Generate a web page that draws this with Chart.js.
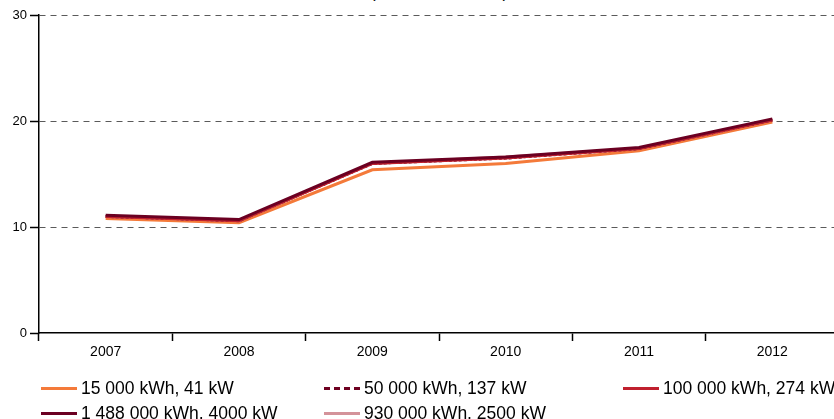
<!DOCTYPE html>
<html>
<head>
<meta charset="utf-8">
<script src="https://cdn.jsdelivr.net/npm/chart.js@4/dist/chart.umd.min.js"></script>
<style>
  html, body { margin: 0; padding: 0; background: #fff; overflow: hidden; }
  #wrap { position: relative; width: 834px; height: 419px; overflow: hidden; font-family: "Liberation Sans", Arial, sans-serif; }
  #title { position: absolute; left: 0; width: 878px; top: -17px; text-align: center; font-size: 17px; color: #000; white-space: nowrap; }
  #chartBox { position: absolute; left: 0; top: 0; width: 845px; height: 360px; }
  #legend { position: absolute; left: 0; top: 0; width: 834px; height: 419px; pointer-events: none; }
  .li { position: absolute; display: flex; align-items: center; font-size: 17.5px; color: #000; white-space: nowrap; }
  .sw { width: 36px; height: 0; border-top: 3px solid; margin-right: 4px; }
</style>
</head>
<body>
<div id="wrap">
  <div id="title">(c/kWh, excl. VAT)</div>
  <div id="chartBox"><canvas id="c" width="845" height="360"></canvas></div>
  <div id="legend"></div>
</div>
<script>
// ---- data ----
const years = ['2007', '2008', '2009', '2010', '2011', '2012'];
const yTicks = [0, 10, 20, 30];
const seriesNames = ['15 000 kWh, 41 kW', '50 000 kWh, 137 kW', '100 000 kWh, 274 kW', '1 488 000 kWh, 4000 kW', '930 000 kWh, 2500 kW'];
const s15000   = [10.8, 10.4, 15.4, 16.0, 17.2, 19.9];
const s50000   = [11.0, 10.6, 16.0, 16.5, 17.4, 20.1];
const s100000  = [11.0, 10.6, 16.0, 16.5, 17.4, 20.1];
const s1488000 = [11.1, 10.7, 16.1, 16.6, 17.5, 20.2];
const s930000  = [11.0, 10.6, 16.0, 16.6, 17.4, 20.1];

const colors = ['#F47A3A', '#6E0020', '#C0202E', '#6B0022', '#D4939A'];
const dashes = [[], [3, 2], [], [], []];
const orders = [4, 2, 1, 0, 3];
const values = [s15000, s50000, s100000, s1488000, s930000];

const datasets = values.map((v, i) => ({
  label: seriesNames[i],
  data: v,
  borderColor: colors[i],
  backgroundColor: colors[i],
  borderWidth: 3,
  borderDash: dashes[i],
  pointRadius: 0,
  tension: 0,
  fill: false,
  order: orders[i]
}));

const xFont = { family: '"Liberation Sans", Arial, sans-serif', size: 14 };
const yFont = { family: '"Liberation Sans", Arial, sans-serif', size: 13 };

new Chart(document.getElementById('c'), {
  type: 'line',
  data: { labels: years, datasets },
  options: {
    responsive: false,
    animation: false,
    events: [],
    layout: { padding: { top: 15, right: 6, left: 0, bottom: 0 } },
    plugins: { legend: { display: false }, tooltip: { enabled: false }, title: { display: false } },
    scales: {
      x: {
        offset: true,
        grid: { offset: true, drawOnChartArea: false, drawTicks: true, tickLength: 8, tickColor: '#000', tickWidth: 1.5 },
        border: { color: '#000', width: 1.5 },
        ticks: { color: '#000', font: xFont, padding: 3, maxRotation: 0 },
        afterFit: s => { s.height = 27; }
      },
      y: {
        min: 0, max: 30,
        afterBuildTicks: s => { s.ticks = yTicks.map(v => ({ value: v })); },
        grid: {
          color: ctx => (ctx.tick && ctx.tick.value === 0) ? 'rgba(0,0,0,0)' : '#5a5a5a',
          lineWidth: 1,
          tickLength: 9,
          tickColor: '#000',
          tickWidth: 1.5
        },
        border: { color: '#000', width: 1.5, dash: [6, 5] },
        ticks: { color: '#000', font: yFont, padding: 3 },
        afterFit: s => { s.width = 39; }
      }
    }
  }
});

// ---- HTML legend ----
const legendPos = [[41, 388], [324, 388], [623, 388], [41, 413], [324, 413]];
const lg = document.getElementById('legend');
seriesNames.forEach((name, i) => {
  const d = document.createElement('div');
  d.className = 'li';
  d.style.left = legendPos[i][0] + 'px';
  d.style.top = (legendPos[i][1] - 10) + 'px';
  d.style.height = '20px';
  const sw = document.createElement('span');
  sw.className = 'sw';
  sw.style.borderTopColor = colors[i];
  if (dashes[i].length) sw.style.borderTopStyle = 'dashed';
  const t = document.createElement('span');
  t.textContent = name;
  d.appendChild(sw); d.appendChild(t);
  lg.appendChild(d);
});
</script>
</body>
</html>
